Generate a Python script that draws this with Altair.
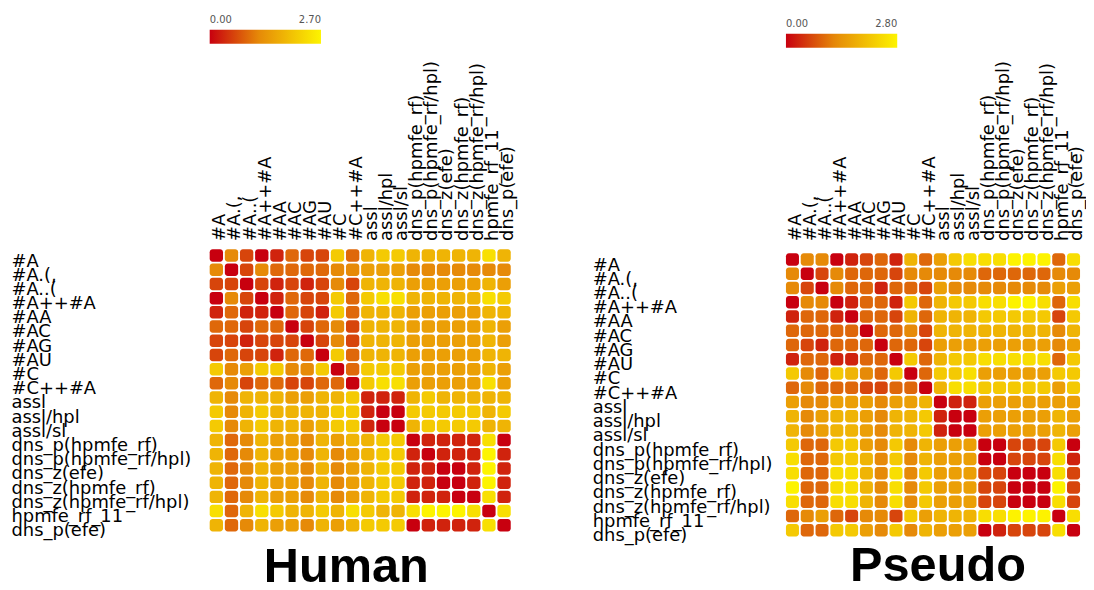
import altair as alt
import pandas as pd

labels = ["#A", "#A.(,", "#A..(", "#A++#A", "#AA", "#AC", "#AG", "#AU", "#C", "#C++#A",
          "assl", "assl/hpl", "assl/sl", "dns_p(hpmfe_rf)", "dns_p(hpmfe_rf/hpl)",
          "dns_z(efe)", "dns_z(hpmfe_rf)", "dns_z(hpmfe_rf/hpl)", "hpmfe_rf_11", "dns_p(efe)"]

human_values = [
    [0.0, 1.2, 0.6, 0.0, 0.3, 0.9, 0.6, 0.6, 2.1, 0.9, 1.8, 2.1, 2.1, 1.8, 1.8, 1.8, 1.8, 1.8, 2.4, 1.8],
    [1.2, 0.0, 0.6, 1.2, 0.9, 0.9, 0.9, 0.9, 1.2, 1.2, 1.5, 1.5, 1.5, 1.2, 1.2, 1.2, 1.2, 1.2, 1.2, 1.2],
    [0.6, 0.6, 0.0, 0.6, 0.3, 0.6, 0.3, 0.6, 1.2, 0.6, 1.8, 1.8, 1.8, 1.5, 1.5, 1.5, 1.5, 1.5, 1.8, 1.5],
    [0.0, 1.2, 0.6, 0.0, 0.3, 0.9, 0.6, 0.6, 2.1, 0.9, 2.1, 2.4, 2.4, 1.8, 1.8, 1.8, 1.8, 1.8, 2.4, 2.1],
    [0.3, 0.9, 0.3, 0.3, 0.0, 0.9, 0.6, 0.3, 2.1, 0.9, 1.8, 1.8, 1.8, 1.5, 1.5, 1.5, 1.5, 1.5, 1.8, 1.8],
    [0.9, 0.9, 0.6, 0.9, 0.9, 0.0, 0.6, 0.9, 1.2, 0.6, 1.8, 1.8, 1.8, 1.5, 1.5, 1.5, 1.5, 1.5, 1.8, 1.5],
    [0.6, 0.6, 0.3, 0.6, 0.6, 0.6, 0.0, 0.6, 1.2, 0.6, 1.8, 1.8, 1.8, 1.5, 1.5, 1.5, 1.5, 1.5, 1.8, 1.5],
    [0.6, 0.9, 0.6, 0.6, 0.3, 0.9, 0.9, 0.0, 2.1, 0.9, 1.8, 1.8, 1.8, 1.5, 1.5, 1.5, 1.5, 1.5, 1.8, 1.8],
    [2.1, 1.2, 1.5, 2.1, 2.1, 1.2, 1.2, 2.1, 0.0, 0.9, 2.1, 2.1, 2.1, 1.5, 1.5, 1.5, 1.5, 1.5, 1.8, 1.5],
    [0.9, 1.2, 0.6, 0.9, 0.9, 0.6, 0.6, 0.9, 0.9, 0.0, 2.1, 2.4, 2.4, 1.5, 1.5, 1.5, 1.5, 1.5, 2.4, 1.5],
    [1.8, 1.2, 1.8, 1.8, 1.8, 1.5, 1.5, 1.8, 1.8, 2.1, 0.3, 0.3, 0.3, 1.8, 2.1, 1.8, 1.8, 1.8, 1.8, 1.8],
    [2.1, 1.2, 1.8, 2.1, 1.8, 1.8, 1.8, 1.8, 2.1, 2.1, 0.3, 0.0, 0.0, 2.1, 2.1, 2.1, 2.1, 2.1, 1.8, 2.1],
    [2.1, 1.2, 1.8, 2.1, 1.8, 1.8, 1.5, 1.8, 2.1, 2.1, 0.3, 0.0, 0.0, 1.8, 2.1, 2.1, 2.1, 2.1, 1.8, 1.8],
    [1.8, 0.9, 1.2, 1.8, 1.5, 1.5, 1.2, 1.8, 1.5, 1.8, 1.8, 2.1, 2.1, 0.0, 0.3, 0.3, 0.3, 0.3, 2.4, 0.0],
    [1.8, 0.9, 1.2, 1.8, 1.5, 1.5, 1.2, 1.8, 1.2, 1.5, 1.8, 2.1, 2.1, 0.3, 0.0, 0.3, 0.3, 0.3, 2.7, 0.3],
    [1.8, 0.9, 1.2, 1.8, 1.5, 1.5, 1.2, 1.8, 1.2, 1.5, 1.8, 2.1, 2.1, 0.3, 0.3, 0.0, 0.0, 0.3, 2.7, 0.3],
    [1.8, 0.9, 1.2, 1.8, 1.5, 1.5, 1.2, 1.8, 1.2, 1.5, 1.8, 2.1, 2.1, 0.3, 0.3, 0.0, 0.0, 0.3, 2.7, 0.3],
    [1.8, 0.9, 1.2, 1.8, 1.5, 1.5, 1.2, 1.8, 1.2, 1.5, 1.8, 2.1, 2.1, 0.3, 0.3, 0.3, 0.0, 0.0, 2.4, 0.3],
    [2.4, 0.9, 1.8, 2.4, 2.1, 1.8, 1.8, 2.1, 1.8, 2.4, 2.1, 1.8, 1.8, 2.4, 2.7, 2.7, 2.7, 2.4, 0.0, 2.4],
    [1.8, 0.9, 1.2, 1.8, 1.5, 1.5, 1.2, 1.8, 1.5, 1.8, 2.1, 2.1, 2.1, 0.0, 0.3, 0.3, 0.3, 0.3, 2.4, 0.0],
]

pseudo_values = [
    [0.0, 1.24, 1.24, 0.0, 0.31, 0.62, 0.93, 0.31, 1.86, 0.93, 1.55, 2.17, 2.48, 2.48, 2.48, 2.79, 2.79, 2.79, 0.93, 2.48],
    [1.24, 0.0, 0.62, 1.24, 0.93, 0.93, 0.93, 0.62, 1.24, 1.24, 1.24, 1.24, 1.24, 0.93, 0.93, 0.93, 0.93, 0.93, 1.24, 1.24],
    [1.24, 0.62, 0.0, 1.24, 0.93, 0.93, 0.31, 0.93, 0.93, 0.62, 1.55, 1.24, 1.24, 1.24, 1.24, 1.24, 1.24, 1.24, 1.55, 1.55],
    [0.0, 1.24, 1.24, 0.0, 0.31, 0.93, 0.93, 0.31, 2.17, 0.93, 1.86, 2.17, 2.17, 2.48, 2.48, 2.79, 2.79, 2.48, 0.93, 2.48],
    [0.31, 0.93, 0.93, 0.31, 0.0, 0.93, 0.93, 0.62, 1.86, 0.93, 1.86, 1.86, 1.86, 2.17, 2.17, 2.17, 2.17, 2.17, 0.62, 2.17],
    [0.93, 0.93, 0.93, 0.93, 0.93, 0.0, 0.93, 0.93, 1.24, 0.62, 1.86, 1.86, 1.86, 1.86, 1.86, 1.86, 1.86, 1.86, 1.24, 1.86],
    [0.93, 0.62, 0.31, 0.93, 0.93, 0.93, 0.0, 0.93, 0.93, 0.62, 1.55, 1.55, 1.55, 1.55, 1.55, 1.55, 1.55, 1.55, 1.24, 1.55],
    [0.31, 0.93, 0.93, 0.31, 0.31, 0.93, 0.93, 0.0, 2.17, 0.93, 1.86, 2.17, 2.17, 2.48, 2.48, 2.48, 2.48, 2.48, 0.93, 2.17],
    [2.17, 1.24, 0.93, 2.17, 1.86, 1.24, 0.93, 2.17, 0.0, 0.93, 2.17, 2.17, 2.48, 1.55, 1.55, 1.55, 1.55, 1.55, 2.17, 2.17],
    [0.93, 1.24, 0.93, 0.93, 0.93, 0.62, 0.62, 0.93, 0.93, 0.0, 1.86, 2.48, 2.48, 2.17, 2.17, 2.17, 2.17, 2.17, 1.55, 2.17],
    [1.55, 1.24, 1.24, 1.55, 1.55, 1.55, 1.24, 1.55, 1.55, 1.86, 0.0, 0.31, 0.31, 1.55, 1.55, 1.55, 1.55, 1.55, 1.55, 1.55],
    [1.86, 1.24, 1.55, 1.86, 1.86, 1.55, 1.24, 1.86, 1.86, 2.17, 0.31, 0.0, 0.0, 1.55, 1.55, 1.55, 1.55, 1.55, 1.86, 1.55],
    [1.86, 1.24, 1.55, 1.86, 1.86, 1.55, 1.24, 1.86, 1.86, 2.17, 0.31, 0.0, 0.0, 1.55, 1.55, 1.55, 1.55, 1.55, 1.86, 1.55],
    [2.17, 0.93, 0.93, 2.17, 2.17, 1.55, 1.24, 2.17, 1.24, 1.86, 1.55, 1.55, 1.55, 0.0, 0.0, 0.62, 0.62, 0.62, 2.17, 0.0],
    [2.48, 0.93, 0.93, 2.17, 2.17, 1.86, 1.24, 2.17, 1.24, 1.86, 1.55, 1.55, 1.55, 0.0, 0.0, 0.62, 0.62, 0.62, 2.48, 0.31],
    [2.48, 0.93, 0.93, 2.48, 2.48, 1.86, 1.24, 2.48, 1.24, 2.17, 1.55, 1.55, 1.55, 0.62, 0.62, 0.0, 0.0, 0.0, 2.48, 0.62],
    [2.79, 0.93, 0.93, 2.48, 2.48, 1.86, 1.24, 2.48, 1.24, 2.17, 1.55, 1.55, 1.55, 0.62, 0.62, 0.0, 0.0, 0.0, 2.79, 0.62],
    [2.48, 0.93, 0.93, 2.48, 2.48, 1.86, 1.24, 2.48, 1.24, 2.17, 1.55, 1.55, 1.55, 0.62, 0.62, 0.0, 0.0, 0.0, 2.48, 0.62],
    [0.93, 1.24, 1.55, 0.93, 0.62, 1.24, 1.24, 0.62, 2.17, 1.55, 1.86, 1.86, 1.86, 2.48, 2.48, 2.79, 2.79, 2.79, 0.0, 2.48],
    [2.17, 0.93, 0.93, 2.17, 2.17, 1.55, 1.24, 2.17, 1.24, 1.86, 1.55, 1.55, 1.55, 0.0, 0.31, 0.62, 0.62, 0.62, 2.48, 0.0],
]

human_max = 2.7
pseudo_max = 2.8
color_range = ["#c8000f", "#e68a08", "#fdf400"]
FONT = "DejaVu Sans"


def to_long(matrix):
    recs = []
    for i, r in enumerate(labels):
        for j, c in enumerate(labels):
            recs.append({"row": r, "col": c, "value": matrix[i][j]})
    return pd.DataFrame(recs)


def panel(matrix, vmax, title, width, grid_h, top_gap, label_pad, dx, dy):
    df = to_long(matrix)
    rect = alt.Chart(df).mark_rect(cornerRadius=3).encode(
        x=alt.X("col:N", sort=labels, title=None,
                scale=alt.Scale(paddingInner=0.12, paddingOuter=0),
                axis=alt.Axis(orient="top", labelAngle=270, labelAlign="left",
                              labelBaseline="middle", labelPadding=9, labelOffset=4,
                              ticks=False, domain=False, labelOverlap=False,
                              labelLimit=0, labelFont=FONT, labelFontSize=18,
                              labelColor="black")),
        y=alt.Y("row:N", sort=labels, title=None,
                scale=alt.Scale(paddingInner=0.12, paddingOuter=0,
                                range=[top_gap, top_gap + grid_h]),
                axis=alt.Axis(orient="left", labelAlign="left", labelBaseline="middle",
                              labelPadding=label_pad, labelOffset=6, ticks=False,
                              domain=False, labelOverlap=False, labelLimit=0,
                              labelFont=FONT, labelFontSize=18, labelColor="black")),
        color=alt.Color("value:Q",
                        scale=alt.Scale(domain=[0, vmax * 0.444, vmax], range=color_range,
                                        interpolate="rgb"),
                        legend=alt.Legend(orient="none", legendX=0, legendY=-221 + top_gap,
                                          direction="horizontal", title=None,
                                          gradientLength=112, gradientThickness=14,
                                          gradientStrokeWidth=0,
                                          values=[0, vmax], format=".2f",
                                          labelFont=FONT, labelFontSize=10,
                                          labelColor="#555555",
                                          labelOffset={"expr": "-29"})),
    )
    rule = alt.Chart(df).mark_rule(opacity=0).encode(
        x=alt.value(0), x2=alt.value(1), y=alt.value(-226))
    return alt.layer(rect, rule).properties(
        width=width, height=grid_h + top_gap,
        title=alt.TitleParams(text=title, orient="bottom", anchor="middle", frame="group",
                              font="Liberation Sans", fontSize=49, fontWeight="bold",
                              color="black", offset=4, dx=dx, dy=dy),
    )


human = panel(human_values, human_max, "Human", 303, 284, 0, 200, -14, 0)
pseudo = panel(pseudo_values, pseudo_max, "Pseudo", 296, 285, 4, 195, 5, -6)

chart = alt.hconcat(human, pseudo, spacing=76).resolve_scale(color="independent").properties(
    padding={"left": 3, "top": 15, "right": 0, "bottom": 0},
    background="white",
).configure_view(stroke=None)

chart.save("out.html", embed_options={"renderer": "svg", "actions": False})
